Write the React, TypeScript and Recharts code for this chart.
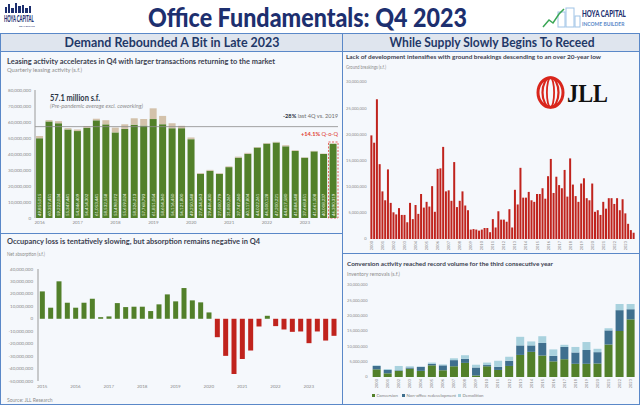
import React from "react";
import { BarChart, Bar, XAxis, YAxis, ReferenceLine, ReferenceArea, Cell, LabelList } from "recharts";

// ---------- Leasing activity, quarterly (s.f.) ----------
const leasingYears = [2016, 2017, 2018, 2019, 2020, 2021, 2022, 2023];
const leasingQuarters = leasingYears.flatMap((y) => [`${y} Q1`, `${y} Q2`, `${y} Q3`, `${y} Q4`]);
const leasingExclCoworking = [
  49855015, 60357451, 59222034, 55347441,
  54346409, 56414302, 61053441, 58532558,
  53498072, 55659024, 58326213, 57768793,
  61851054, 58604360, 56116450, 56121800,
  49250548, 27634563, 29486430, 27500779,
  31800267, 37747260, 40117804, 44022261,
  46500128, 47200221, 44817580, 41884548,
  37668851, 41661508, 40008237, 46390319,
];
const leasingCoworking = [
  1400000, 800000, 1300000, 800000,
  1000000, 1100000, 1000000, 2600000,
  3000000, 2900000, 4000000, 4100000,
  6700000, 5200000, 3100000, 1500000,
  1100000, 500000, 600000, 500000,
  500000, 600000, 600000, 400000,
  400000, 400000, 700000, 500000,
  300000, 300000, 300000, 200000,
];
const leasingTicks = [0, 10e6, 20e6, 30e6, 40e6, 50e6, 60e6, 70e6, 80e6];
const preCovidAverage = 57100000;

// ---------- Net absorption, quarterly (million s.f.) ----------
const absorptionYears = [2015, 2016, 2017, 2018, 2019, 2020, 2021, 2022, 2023];
const absorptionQuarters = absorptionYears.flatMap((y) => [`${y} Q1`, `${y} Q2`, `${y} Q3`, `${y} Q4`]);
const netAbsorption = [
  22.0, 8.9, 30.1, 12.9,
  8.9, 12.9, 16.1, 1.3,
  1.9, 12.6, 9.4, 9.7,
  9.7, 6.2, 11.6, 19.6,
  14.0, 24.7, 14.8, 13.2,
  5.1, -14.8, -29.8, -44.4,
  -32.3, -25.5, -6.2, 2.4,
  -5.9, -8.6, -10.5, -10.2,
  -19.6, -10.2, -17.5, -13.7,
];
const absorptionTicks = [40, 30, 20, 10, 0, -10, -20, -30, -40, -50];

// ---------- Ground breakings, quarterly (million s.f.) ----------
const groundYears = [
  2000, 2001, 2002, 2003, 2004, 2005, 2006, 2007, 2008, 2009, 2010, 2011,
  2012, 2013, 2014, 2015, 2016, 2017, 2018, 2019, 2020, 2021, 2022, 2023,
];
const groundQuarters = groundYears.flatMap((y) => [`${y} Q1`, `${y} Q2`, `${y} Q3`, `${y} Q4`]);
const groundBreakings = [
  19.8, 18.4, 26.7, 14.3, 9.1, 7.4, 13.3, 6.9,
  5.1, 4.7, 5.9, 4.6, 4.6, 3.2, 6.9, 3.8,
  6.5, 4.8, 8.6, 6.0, 7.1, 6.2, 10.1, 5.2,
  13.4, 13.5, 17.6, 9.1, 9.3, 7.3, 14.7, 6.1,
  7.3, 9.1, 6.4, 5.5, 1.8, 1.9, 1.8, 1.6,
  1.8, 2.1, 2.1, 1.3, 3.8, 2.2, 5.3, 3.7,
  3.7, 3.3, 5.7, 2.2, 9.4, 6.6, 13.6, 7.9,
  7.9, 9.0, 7.4, 7.1, 8.6, 8.6, 9.7, 7.7,
  12.0, 15.3, 8.8, 11.9, 10.3, 9.7, 13.2, 8.1,
  15.4, 10.4, 8.2, 7.1, 10.6, 11.6, 7.8, 7.4,
  10.6, 5.2, 5.5, 4.6, 7.1, 5.8, 7.8, 7.8,
  6.7, 7.8, 5.5, 7.6, 4.9, 2.9, 1.7, 1.2,
];
const groundTicks = [0, 5, 10, 15, 20, 25, 30];

// ---------- Inventory removals, annual (million s.f.) ----------
const removalYears = [
  "2000", "2001", "2002", "2003", "2004", "2005", "2006", "2007", "2008", "2009", "2010", "2011",
  "2012", "2013", "2014", "2015", "2016", "2017", "2018", "2019", "2020", "2021", "2022", "2023",
];
const conversion = [2.5, 1.2, 2.0, 2.7, 2.0, 3.8, 2.2, 3.5, 4.6, 0.5, 3.5, 2.3, 3.6, 7.2, 8.2, 7.0, 5.1, 5.8, 4.3, 4.3, 4.4, 10.6, 15.0, 18.8];
const nonOfficeRedev = [1.1, 1.1, 0.2, 0.4, 1.3, 0.5, 1.6, 2.0, 1.3, 2.6, 0.4, 1.0, 1.7, 3.1, 2.1, 4.1, 1.8, 4.0, 3.7, 4.5, 3.7, 4.6, 6.8, 3.3];
const demolition = [0.2, 0.3, 1.4, 0.4, 0.1, 0.4, 0.3, 0.6, 1.2, 0.9, 0.8, 2.0, 1.3, 2.8, 1.3, 2.2, 2.1, 0.7, 1.8, 2.6, 1.1, 0.7, 2.0, 1.7];
const removalTicks = [0, 5, 10, 15, 20, 25, 30];

const FONT = "Lato, 'Noto Sans', sans-serif";
const GREEN = "#52802a";
const TAN = "#d3c2ab";
const RED = "#c0231d";
const STEEL = "#3f6f8e";
const LIGHTBLUE = "#a9d2de";
const BORDER = "#5a88c8";
const NAVY = "#1d2f6f";
const AXIS_TEXT = "#8a8a8a";

const fmt = (v: number) => Math.round(v).toLocaleString("en-US");
const fmtM = (v: number) => Math.round(v * 1e6).toLocaleString("en-US");

const panel = (left: number, top: number, width: number, height: number, bg: string): React.CSSProperties => ({
  position: "absolute",
  left,
  top,
  width,
  height,
  boxSizing: "border-box",
  border: `1.5px solid ${BORDER}`,
  background: bg,
});

const VLabel = (props: any) => {
  const { x, y, width, height, value } = props;
  const cx = x + width / 2;
  const by = y + height - 2;
  return (
    <text
      x={cx}
      y={by}
      transform={`rotate(-90 ${cx} ${by})`}
      fontSize={4.4}
      fill="#e9f0e1"
      fontFamily={FONT}
      dominantBaseline="central"
    >
      {fmt(value)}
    </text>
  );
};

const RotTick = (props: any) => {
  const { x, y, payload } = props;
  return (
    <text
      x={x}
      y={y}
      transform={`rotate(-90 ${x} ${y})`}
      textAnchor="end"
      dominantBaseline="central"
      fontSize={4}
      fill={AXIS_TEXT}
      fontFamily={FONT}
    >
      {String(payload.value).slice(0, 4)}
    </text>
  );
};

export default function App() {
  const leasingData = leasingQuarters.map((q, i) => ({ q, excl: leasingExclCoworking[i], cowork: leasingCoworking[i] }));
  const absorptionData = absorptionQuarters.map((q, i) => ({ q, v: netAbsorption[i] }));
  const groundData = groundQuarters.map((q, i) => ({ q, v: groundBreakings[i] }));
  const removalData = removalYears.map((y, i) => ({ y, conv: conversion[i], redev: nonOfficeRedev[i], demo: demolition[i] }));

  const tick = { fontSize: 4.5, fill: AXIS_TEXT, fontFamily: FONT };
  const smallTick = { fontSize: 4, fill: AXIS_TEXT, fontFamily: FONT };

  return (
    <div style={{ position: "absolute", left: 0, top: 0, width: 640, height: 405, background: "#fff", overflow: "hidden", fontFamily: FONT }}>
      {/* frame */}
      <div style={{ ...panel(0, 33, 343, 19, "#dfe5ee") }} />
      <div style={{ ...panel(342, 33, 298, 19, "#dfe5ee") }} />
      <div style={panel(0, 51, 343, 183, "#f5f8fc")} />
      <div style={panel(0, 233, 343, 172, "#f5f8fc")} />
      <div style={panel(342, 51, 298, 203, "#f5f8fc")} />
      <div style={panel(342, 253, 298, 152, "#f5f8fc")} />

      {/* leasing activity */}
      <div style={{ position: "absolute", left: 0, top: 85 }}>
        <BarChart width={343} height={145} data={leasingData} margin={{ top: 5, right: 5, left: 0, bottom: 0 }} barCategoryGap="11%">
          <XAxis
            dataKey="q"
            ticks={leasingYears.map((y) => `${y} Q1`)}
            interval={0}
            tickFormatter={(v: string) => v.slice(0, 4)}
            tick={tick}
            tickLine={false}
            axisLine={false}
            tickSize={0}
            tickMargin={3}
            height={12}
          />
          <YAxis
            domain={[0, 80000000]}
            ticks={leasingTicks}
            tickFormatter={fmt}
            width={35}
            tick={tick}
            tickLine={false}
            tickSize={0}
            tickMargin={4}
            axisLine={{ stroke: "#9a9a9a" }}
          />
          <ReferenceLine y={preCovidAverage} stroke="#8c8c8c" strokeWidth={0.8} />
          <Bar dataKey="excl" stackId="a" fill={GREEN} isAnimationActive={false}>
            <LabelList dataKey="excl" content={VLabel} />
          </Bar>
          <Bar dataKey="cowork" stackId="a" fill={TAN} isAnimationActive={false} />
          <ReferenceArea
            x1="2023 Q4"
            x2="2023 Q4"
            y1={0}
            y2={47500000}
            fill="none"
            stroke="#e03c31"
            strokeDasharray="2 1.5"
            strokeWidth={0.8}
            ifOverflow="visible"
          />
        </BarChart>
      </div>

      {/* net absorption */}
      <div style={{ position: "absolute", left: 0, top: 264 }}>
        <BarChart width={343} height={130} data={absorptionData} margin={{ top: 5, right: 5, left: 0, bottom: 0 }} barCategoryGap="22%">
          <XAxis
            dataKey="q"
            ticks={absorptionYears.map((y) => `${y} Q1`)}
            interval={0}
            tickFormatter={(v: string) => v.slice(0, 4)}
            tick={tick}
            tickLine={false}
            axisLine={false}
            tickSize={0}
            tickMargin={4}
            height={13}
          />
          <YAxis
            domain={[-50, 40]}
            ticks={absorptionTicks}
            tickFormatter={fmtM}
            width={38}
            tick={tick}
            tickLine={false}
            tickSize={0}
            tickMargin={5}
            axisLine={{ stroke: "#9a9a9a" }}
          />
          <Bar dataKey="v" isAnimationActive={false}>
            {absorptionData.map((d) => (
              <Cell key={d.q} fill={d.v >= 0 ? GREEN : RED} />
            ))}
          </Bar>
        </BarChart>
      </div>

      {/* ground breakings */}
      <div style={{ position: "absolute", left: 342, top: 77, width: 298, height: 176, overflow: "hidden" }}>
        <BarChart width={298} height={180} data={groundData} margin={{ top: 5, right: 5, left: 0, bottom: 0 }} barCategoryGap="14%">
          <XAxis
            dataKey="q"
            ticks={groundYears.map((y) => `${y} Q1`)}
            interval={0}
            tick={<RotTick />}
            tickLine={false}
            axisLine={false}
            tickSize={0}
            tickMargin={2}
            height={18}
          />
          <YAxis
            domain={[0, 30]}
            ticks={groundTicks}
            tickFormatter={fmtM}
            width={28}
            tick={smallTick}
            tickLine={false}
            tickSize={0}
            tickMargin={3.5}
            axisLine={false}
          />
          <Bar dataKey="v" fill={RED} isAnimationActive={false} />
        </BarChart>
      </div>

      {/* inventory removals */}
      <div style={{ position: "absolute", left: 342, top: 280 }}>
        <BarChart width={298} height={113} data={removalData} margin={{ top: 5, right: 4, left: 0, bottom: 0 }} barCategoryGap="15%">
          <XAxis
            dataKey="y"
            interval={0}
            tick={<RotTick />}
            tickLine={false}
            axisLine={false}
            tickSize={0}
            tickMargin={2}
            height={16}
          />
          <YAxis
            domain={[0, 30]}
            ticks={removalTicks}
            tickFormatter={fmtM}
            width={29}
            tick={smallTick}
            tickLine={false}
            tickSize={0}
            tickMargin={3.5}
            axisLine={false}
          />
          <Bar dataKey="conv" stackId="r" fill={GREEN} isAnimationActive={false} />
          <Bar dataKey="redev" stackId="r" fill={STEEL} isAnimationActive={false} />
          <Bar dataKey="demo" stackId="r" fill={LIGHTBLUE} isAnimationActive={false} />
        </BarChart>
      </div>

      {/* text overlay */}
      <svg width={640} height={405} style={{ position: "absolute", left: 0, top: 0, pointerEvents: "none" }} fontFamily={FONT}>
        {/* left logo */}
        <g fill={NAVY}>
          <rect x={5} y={7} width={2} height={6} />
          <rect x={8} y={4} width={2} height={9} />
          <rect x={11} y={8} width={3} height={5} />
          <rect x={15} y={3} width={2} height={10} />
          <rect x={18} y={6} width={3} height={7} />
          <rect x={22} y={5} width={2} height={8} />
          <rect x={25} y={8} width={3} height={5} />
          <rect x={29} y={6} width={2} height={7} />
        </g>
        <text transform="translate(4 22) scale(1 2)" fontSize={4.2} fontWeight={900} fill={NAVY}>HOYA CAPITAL</text>
        <text x={19} y={27} fontSize={2.6} fill={NAVY}>REAL ESTATE</text>

        {/* title */}
        <text x={148} y={27} fontSize={27} fontWeight={900} fill={NAVY} textLength={319} lengthAdjust="spacingAndGlyphs">
          Office Fundamentals: Q4 2023
        </text>

        {/* right logo */}
        <g fill="none" stroke="#9fc3e6" strokeWidth={1}>
          <rect x={558} y={12} width={7} height={15} />
          <rect x={566} y={8} width={8} height={19} />
          <rect x={575} y={16} width={5} height={11} />
        </g>
        <polyline points="543,27 549,20 553,23 559,14 564,9" fill="none" stroke="#3aa655" strokeWidth={1.5} />
        <text transform="translate(582 17) scale(1 1.5)" fontSize={6.2} fontWeight={900} fill={NAVY}>HOYA CAPITAL</text>
        <text transform="translate(582 25.5) scale(1 1.2)" fontSize={5} fontWeight={700} fill="#5a88c8">INCOME BUILDER</text>

        {/* section headers */}
        <text x={172} y={46.5} textAnchor="middle" fontSize={13} fontWeight={700} fill="#1f3868" textLength={215} lengthAdjust="spacingAndGlyphs">
          Demand Rebounded A Bit in Late 2023
        </text>
        <text x={492} y={46.5} textAnchor="middle" fontSize={13} fontWeight={700} fill="#1f3868" textLength={205} lengthAdjust="spacingAndGlyphs">
          While Supply Slowly Begins To Receed
        </text>

        {/* leasing titles */}
        <text x={7} y={63.5} fontSize={7} fontWeight={700} fill="#3b4150" textLength={268} lengthAdjust="spacingAndGlyphs">
          Leasing activity accelerates in Q4 with larger transactions returning to the market
        </text>
        <text x={7} y={71.5} fontSize={5.3} fill="#8d8d8d" textLength={75} lengthAdjust="spacingAndGlyphs">
          Quarterly leasing activity (s.f.)
        </text>
        <text x={50} y={101} fontSize={8.5} fontWeight={700} fill="#2c3444" textLength={50} lengthAdjust="spacingAndGlyphs">
          57.1 million s.f.
        </text>
        <text x={50} y={108} fontSize={5} fontStyle="italic" fill="#8d8d8d" textLength={93} lengthAdjust="spacingAndGlyphs">
          (Pre-pandemic average excl. coworking)
        </text>
        <text x={338} y={118} textAnchor="end" fontSize={5.5} fill="#6d6d6d" textLength={55} lengthAdjust="spacingAndGlyphs">
          <tspan fontWeight={700} fill="#2c3444">-28%</tspan> last 4Q vs. 2019
        </text>
        <text x={338} y={136} textAnchor="end" fontSize={6} fill="#e03c31" textLength={37} lengthAdjust="spacingAndGlyphs">
          <tspan fontWeight={700}>+14.1%</tspan> Q-o-Q
        </text>

        {/* absorption titles */}
        <text x={7} y={243.5} fontSize={7} fontWeight={700} fill="#3b4150" textLength={253} lengthAdjust="spacingAndGlyphs">
          Occupancy loss is tentatively slowing, but absorption remains negative in Q4
        </text>
        <text x={7} y={256} fontSize={5.3} fill="#8d8d8d" textLength={38} lengthAdjust="spacingAndGlyphs">
          Net absorption (s.f.)
        </text>
        <text x={7} y={402} fontSize={5} fill="#8d8d8d">Source: JLL Research</text>

        {/* ground breakings titles */}
        <text x={346} y={59} fontSize={6.3} fontWeight={700} fill="#3b4150" textLength={255} lengthAdjust="spacingAndGlyphs">
          Lack of development intensifies with ground breakings descending to an over 20-year low
        </text>
        <text x={346} y={69} fontSize={5} fill="#8d8d8d" textLength={40} lengthAdjust="spacingAndGlyphs">
          Ground breakings (s.f.)
        </text>

        {/* JLL logo */}
        <g fill="none" stroke="#d9261c">
          <ellipse cx={550.5} cy={92.5} rx={12.5} ry={14.8} strokeWidth={3} />
          <ellipse cx={550.5} cy={92.5} rx={8} ry={14.8} strokeWidth={2.2} />
          <ellipse cx={550.5} cy={92.5} rx={3.6} ry={14.8} strokeWidth={1.8} />
        </g>
        <text x={567} y={102} fontSize={26} fontWeight={700} fill="#111" fontFamily="'Liberation Serif', 'DejaVu Serif', serif" textLength={41} lengthAdjust="spacingAndGlyphs">
          JLL
        </text>

        {/* removals titles */}
        <text x={347} y={265.5} fontSize={6.3} fontWeight={700} fill="#3b4150" textLength={206} lengthAdjust="spacingAndGlyphs">
          Conversion activity reached record volume for the third consecutive year
        </text>
        <text x={347} y={276} fontSize={5} fill="#8d8d8d" textLength={53} lengthAdjust="spacingAndGlyphs">
          Inventory removals (s.f.)
        </text>

        {/* removals legend */}
        <rect x={372} y={394} width={3} height={3} fill={GREEN} />
        <text x={376.5} y={397} fontSize={4.3} fill="#7d7d7d">Conversion</text>
        <rect x={402} y={394} width={3} height={3} fill={STEEL} />
        <text x={406.5} y={397} fontSize={4.3} fill="#7d7d7d">Non-office redevelopment</text>
        <rect x={458} y={394} width={3} height={3} fill={LIGHTBLUE} />
        <text x={462.5} y={397} fontSize={4.3} fill="#7d7d7d">Demolition</text>
      </svg>
    </div>
  );
}
